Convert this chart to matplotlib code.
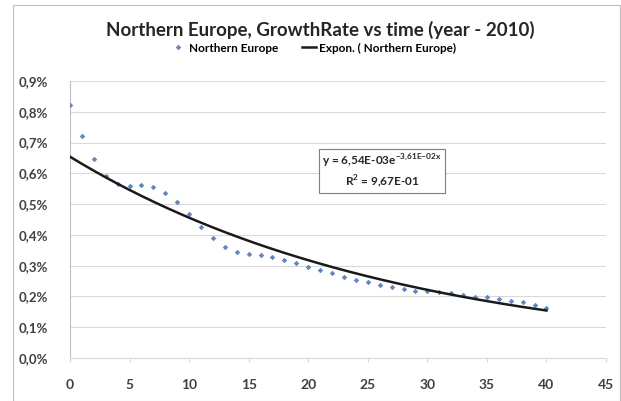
import numpy as np
import matplotlib
matplotlib.use("Agg")
import matplotlib.pyplot as plt
from matplotlib.ticker import FuncFormatter, MultipleLocator
from matplotlib.patches import Rectangle
from matplotlib.lines import Line2D

plt.rcParams['font.family'] = ['Lato', 'DejaVu Sans']

# Years since 2010
years = list(range(0, 41))
# Annual growth rate, in percent
growth_pct = [0.821, 0.722, 0.646, 0.590, 0.565, 0.559, 0.563, 0.555, 0.537, 0.506,
              0.468, 0.426, 0.391, 0.361, 0.345, 0.337, 0.335, 0.329, 0.319, 0.309,
              0.296, 0.286, 0.275, 0.264, 0.253, 0.246, 0.237, 0.230, 0.223, 0.219,
              0.217, 0.213, 0.210, 0.205, 0.199, 0.197, 0.192, 0.186, 0.181, 0.172,
              0.161]

# Exponential trend: y = a * exp(b * x)
fit_a = 6.54e-03
fit_b = -3.61e-02
fit_r2 = 9.67e-01

series_name = "Northern Europe"
title = "Northern Europe, GrowthRate vs time (year - 2010)"

fig = plt.figure(figsize=(6.21, 4.01), dpi=100)
fig.patch.set_facecolor("white")

# chart-area border
fig.patches.append(Rectangle((13 / 621, 0.0), 607 / 621, 396 / 401, transform=fig.transFigure,
                             fill=False, edgecolor="#bfbfbf", linewidth=0.8))

ax = fig.add_axes([70 / 621, 1 - 358 / 401, 536 / 621, 277 / 401])

x = np.array(years, dtype=float)
y = np.array(growth_pct) / 100.0

ax.plot(x, y, linestyle="none", marker="D", markersize=2.8,
        color="#6386c0", markeredgewidth=0, zorder=3)

xf = np.linspace(0, 40, 200)
ax.plot(xf, fit_a * np.exp(fit_b * xf), color="#1a1a1a", linewidth=1.8, zorder=4)

ax.set_xlim(0, 45)
ax.set_ylim(0, 0.009)
ax.xaxis.set_major_locator(MultipleLocator(5))
ax.yaxis.set_major_locator(MultipleLocator(0.001))
ax.yaxis.set_major_formatter(FuncFormatter(lambda v, p: f"{v * 100:.1f}%".replace(".", ",")))

ax.grid(axis="y", color="#d9d9d9", linewidth=0.8)
ax.set_axisbelow(True)
for s in ["top", "right"]:
    ax.spines[s].set_visible(False)
ax.spines["left"].set_color("#bfbfbf")
ax.spines["bottom"].set_color("#d9d9d9")
ax.tick_params(axis="y", length=0, pad=16, labelsize=9.5, labelcolor="#404040")
ax.tick_params(axis="x", length=3, color="#d9d9d9", pad=12, labelsize=10, labelcolor="#404040")
for lbl in ax.get_yticklabels() + ax.get_xticklabels():
    lbl.set_fontweight("bold")

fig.text(0.515, 1 - 30 / 401, title, ha="center", va="center",
         fontsize=13.5, fontweight="bold", color="#262626")

handles = [Line2D([], [], linestyle="none", marker="D", markersize=2.8, color="#6386c0",
                  markeredgewidth=0),
           Line2D([], [], color="#1a1a1a", linewidth=1.8)]
fig.legend(handles, [series_name, f"Expon. ( {series_name})"], loc="center",
           bbox_to_anchor=(0.505, 1 - 48 / 401), ncol=2, frameon=False,
           handlelength=1.2, columnspacing=2.0, handletextpad=0.3,
           prop={"weight": "bold", "size": 8.5})

eq = (r"y = 6,54E-03e$^{\mathregular{-3{,}61E{-}02x}}$" + "\n"
      + r"R$^{\mathregular{2}}$ = 9,67E-01")
ax.text(382 / 621, 1 - 171 / 401, eq, transform=fig.transFigure, ha="center", va="center",
        fontsize=8.5, fontweight="bold", color="#262626", linespacing=1.25,
        bbox=dict(boxstyle="square,pad=0.3", facecolor="white", edgecolor="#7f7f7f",
                  linewidth=0.8), zorder=6)

fig.savefig("out.png", dpi=100)
